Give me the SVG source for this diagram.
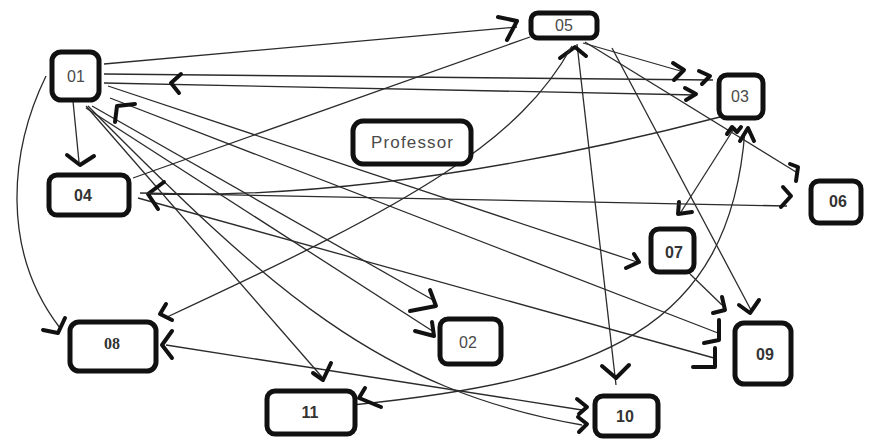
<svg xmlns="http://www.w3.org/2000/svg" width="869" height="439" viewBox="0 0 869 439">
  <style>
    .edge { fill: none; stroke: #2b2b2b; stroke-width: 1.3; }
    .head { fill: none; stroke: #111; stroke-width: 4; stroke-linecap: round; stroke-linejoin: round; }
    .box { fill: #fff; stroke: #111; stroke-width: 5; }
    .lbl { font-family: "Liberation Sans", Arial, sans-serif; font-size: 16px; fill: #4a4a4a; text-anchor: middle; }
    .lbl.b { font-weight: bold; fill: #333; }
  </style>
  <rect width="869" height="439" fill="#fff"/>

  <g id="connectors">
    <!-- 01 to 05 -->
    <path class="edge" d="M104,64 L517,27"/>
    <path class="head" d="M498,17 L517,21 L507,40"/>
    <!-- 01 to 03 -->
    <path class="edge" d="M104,74 L713,80"/>
    <path class="head" d="M699,71 L710,76 L702,84"/>
    <!-- 01 and 03, both ways -->
    <path class="edge" d="M104,83 L696,95"/>
    <path class="head" d="M181,74 L171,83 L179,93"/>
    <path class="head" d="M685,88 L696,94 L686,100"/>
    <!-- 05 to 03 -->
    <path class="edge" d="M583,43 L684,72"/>
    <path class="head" d="M673,63 L684,70 L674,80"/>
    <!-- 05 to 06 -->
    <path class="edge" d="M585,42 L796,172"/>
    <path class="head" d="M790,164 L798,167 L796,181"/>
    <!-- 05 and 10, both ways -->
    <path class="edge" d="M577,44 L616,385"/>
    <path class="head" d="M560,58 L575,47 L586,56"/>
    <path class="head" d="M602,366 L616,378 L629,365"/>
    <!-- 05 to 09 -->
    <path class="edge" d="M612,48 L752,312"/>
    <path class="head" d="M739,305 L750,313 L759,300"/>
    <!-- 05 to 08 -->
    <path class="edge" d="M572,46 C520,140 420,200 165,318"/>
    <path class="head" d="M166,304 L160,314 L172,320"/>
    <!-- 08 and 10, both ways -->
    <path class="edge" d="M166,345 L582,410"/>
    <path class="head" d="M172,331 L162,345 L172,358"/>
    <path class="head" d="M577,399 L587,407 L579,414"/>
    <!-- 01 to 10 -->
    <path class="edge" d="M88,106 C270,290 380,390 582,425"/>
    <path class="head" d="M578,417 L587,424 L579,432"/>
    <!-- 01 to 11 -->
    <path class="edge" d="M86,106 L322,377"/>
    <path class="head" d="M313,373 L323,380 L331,363"/>
    <!-- 01 to 02 (twice) -->
    <path class="edge" d="M92,106 L433,300"/>
    <path class="head" d="M430,290 L436,306 L410,311"/>
    <path class="edge" d="M86,108 L434,332"/>
    <path class="head" d="M415,331 L434,336 L432,322"/>
    <!-- 01 to 07 -->
    <path class="edge" d="M108,86 L640,263"/>
    <path class="head" d="M626,268 L639,262 L634,254"/>
    <!-- 01 and 09, both ways -->
    <path class="edge" d="M110,98 L718,333"/>
    <path class="head" d="M135,104 L117,106 L115,122"/>
    <path class="head" d="M719,320 L719,340 L704,343"/>
    <!-- 04 to 09 -->
    <path class="edge" d="M138,198 L714,358"/>
    <path class="head" d="M715,348 L715,367 L693,367"/>
    <!-- 07 to 09 -->
    <path class="edge" d="M690,274 L722,305"/>
    <path class="head" d="M722,297 L725,310 L713,313"/>
    <!-- 03 to 07 -->
    <path class="edge" d="M735,127 L681,212"/>
    <path class="head" d="M679,202 L678,214 L692,212"/>
    <!-- 11 and 03, both ways -->
    <path class="edge" d="M352,405 C600,380 730,330 745,130"/>
    <path class="head" d="M365,388 L359,398 L381,407"/>
    <path class="head" d="M740,141 L748,128 L754,141"/>
    <path class="head" d="M727,134 L732,127 L737,132 L741,127"/>
    <!-- 03 to 04 -->
    <path class="edge" d="M720,117 Q400,200 150,194"/>
    <path class="head" d="M164,182 L148,194 L158,209"/>
    <!-- 04 to 05 -->
    <path class="edge" d="M133,178 L530,37"/>
    <!-- 04 to 06 -->
    <path class="edge" d="M140,193 L787,206"/>
    <path class="head" d="M783,187 L791,196 L781,207"/>
    <!-- 01 to 04 -->
    <path class="edge" d="M73,101 L79,162"/>
    <path class="head" d="M67,155 L80,165 L94,156"/>
    <!-- 01 to 08 -->
    <path class="edge" d="M46,76 C10,150 0,250 60,328"/>
    <path class="head" d="M43,330 L58,333 L65,318"/>
  </g>

  <g id="n01"><rect class="box" x="52" y="52" width="47" height="48" rx="9"/><text class="lbl" x="76" y="82">01</text></g>
  <g id="n05"><rect class="box" x="531" y="13" width="66" height="25" rx="7"/><text class="lbl" x="564" y="31">05</text></g>
  <g id="n03"><rect class="box" x="719" y="75" width="44" height="43" rx="8"/><text class="lbl" x="740" y="102">03</text></g>
  <g id="n04"><rect class="box" x="49" y="175" width="80" height="40" rx="8"/><text class="lbl b" x="83" y="201">04</text></g>
  <g id="n06"><rect class="box" x="811" y="181" width="50" height="42" rx="8"/><text class="lbl b" x="838" y="207">06</text></g>
  <g id="n07"><rect class="box" x="651" y="229" width="43" height="43" rx="8"/><text class="lbl b" x="674" y="258">07</text></g>
  <g id="n09"><rect class="box" x="735" y="323" width="56" height="61" rx="9"/><text class="lbl b" x="765" y="360">09</text></g>
  <g id="n10"><rect class="box" x="595" y="396" width="63" height="40" rx="8"/><text class="lbl b" x="625" y="422">10</text></g>
  <g id="n08"><rect class="box" x="70" y="322" width="86" height="49" rx="9"/><text class="lbl b" x="112" y="349" style="font-family:'Liberation Serif', serif">08</text></g>
  <g id="n11"><rect class="box" x="267" y="391" width="88" height="43" rx="8"/><text class="lbl b" x="310" y="418">11</text></g>
  <g id="n02"><rect class="box" x="440" y="319" width="61" height="45" rx="8"/><text class="lbl" x="468" y="348">02</text></g>
  <g id="professor"><rect class="box" x="353" y="121" width="118" height="43" rx="10"/><text class="lbl" x="412" y="148" style="font-size:17px" textLength="82">Professor</text></g>
</svg>
